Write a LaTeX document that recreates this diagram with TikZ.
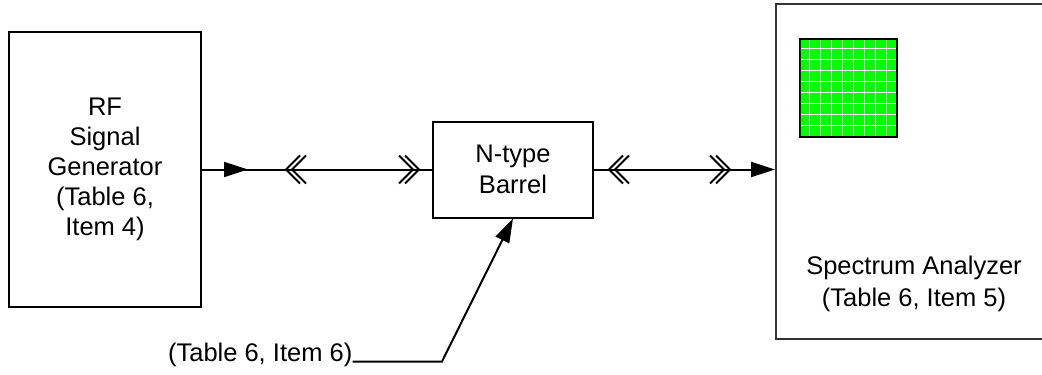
\documentclass[tikz,border=0pt]{standalone}
\usepackage{fontspec}
\setmainfont{Liberation Sans}
\usetikzlibrary{arrows.meta,positioning,calc,decorations.markings}
\tikzset{
  unitbox/.style ={draw,line width=2pt,align=center,inner sep=0pt,
                   font=\fontsize{25.5}{30}\selectfont},
  cable/.style   ={line width=2pt},
  flow/.style    ={-{Triangle[length=24pt,width=15pt]},line width=2pt},
  head/.tip      ={Triangle[length=24pt,width=15pt]},
}
% connector chevrons, drawn along the cable direction
\newcommand{\plugL}{\draw[cable,-,line join=miter] (14,14) -- (0,0) -- (14,-14);}
\newcommand{\plugR}{\draw[cable,-,line join=miter] (-14,14) -- (0,0) -- (-14,-14);}
\begin{document}
\begin{tikzpicture}[x=1pt,y=-1pt,
  lbl/.style={font=\fontsize{25.5}{31.5}\selectfont,align=center,inner sep=0pt}]
\useasboundingbox (0,0) rectangle (1042,375);
% ---- units ----
\node[unitbox,minimum width=192pt,minimum height=275pt] (gen) at (105,169.5)
  {RF\\Signal\\Generator\\(Table 6,\\Item 4)};
\node[unitbox,minimum width=160pt,minimum height=96pt,
      font=\fontsize{25.5}{31.5}\selectfont] (barrel) at (513,169.5) {N-type\\Barrel};
\node[unitbox,draw=black!80,minimum width=290pt,minimum height=335pt] (sa) at (921,171.5) {};
\node[lbl] (saname) at (914,284) {Spectrum Analyzer\\(Table 6, Item 5)};
% ---- analyzer screen ----
\node[fill={rgb,255:red,0;green,255;blue,0},inner sep=0pt,
      minimum width=97pt,minimum height=97pt] (scr) at (848.7,88) {};
\foreach \k in {0,...,7} {
  \draw[white,line width=0.9pt] ([xshift={(9.3+11*\k)*1pt}]scr.north west) -- ([xshift={(9.3+11*\k)*1pt}]scr.south west);
  \draw[white,line width=0.9pt] ([yshift={-(9.3+11*\k)*1pt}]scr.north west) -- ([yshift={-(9.3+11*\k)*1pt}]scr.north east);
}
\draw[line width=2pt] (scr.north west) rectangle (scr.south east);
% ---- cables with connectors ----
\draw[cable,postaction={decorate},decoration={markings,
    mark=at position 46pt with {\arrow{head}},
    mark=at position 84pt with {\plugL},
    mark=at position 90pt with {\plugL},
    mark=at position 211pt with {\plugR},
    mark=at position 217pt with {\plugR}}]
  (gen.east) -- (barrel.west);
\draw[flow,postaction={decorate},decoration={markings,
    mark=at position 15pt with {\plugL},
    mark=at position 21pt with {\plugL},
    mark=at position 130pt with {\plugR},
    mark=at position 136pt with {\plugR}}]
  (barrel.east) -- (barrel.east -| sa.west);
% ---- barrel callout ----
\node[lbl,anchor=east] (itm) at (352.5,355) {(Table 6, Item 6)};
\coordinate (bnd) at (442,361.5);
\draw[flow] (itm.east |- bnd) -- (bnd) -- (barrel.south);
\end{tikzpicture}
\end{document}
